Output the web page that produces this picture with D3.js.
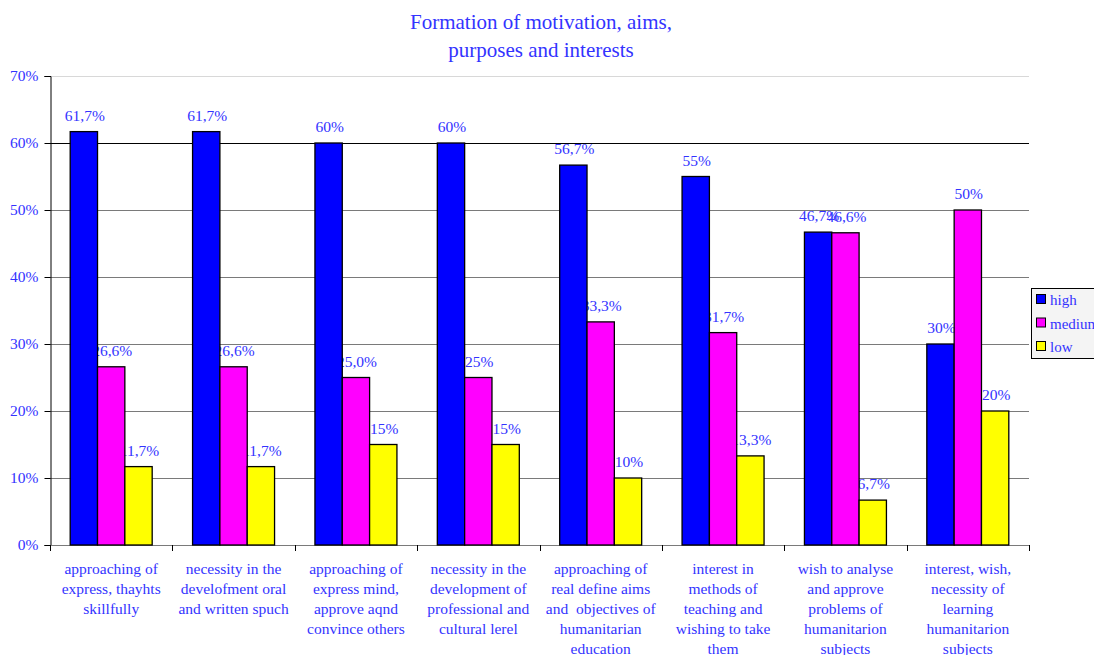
<!DOCTYPE html>
<html lang="en">
<head>
    <meta charset="UTF-8">
    <title>Formation of motivation, aims, purposes and interests</title>
    <script src="https://d3js.org/d3.v7.min.js"></script>
    <style>
        html, body {
            margin: 0;
            background: #fff;
        }
        svg text {
            font-family: "Liberation Serif", "Times New Roman", serif;
            fill: #3333ff;
            white-space: pre;
        }
    </style>
</head>
<body>
<div id="vis"></div>
<script>
    // data
    var categories = [
        ["approaching of", "express, thayhts", "skillfully"],
        ["necessity in the", "develofment oral", "and written spuch"],
        ["approaching of", "express mind,", "approve aqnd", "convince others"],
        ["necessity in the", "development of", "professional and", "cultural lerel"],
        ["approaching of", "real define aims", "and  objectives of", "humanitarian", "education"],
        ["interest in", "methods of", "teaching and", "wishing to take", "them"],
        ["wish to analyse", "and approve", "problems of", "humanitarion", "subjects"],
        ["interest, wish,", "necessity of", "learning", "humanitarion", "subjects"]
    ];
    var seriesNames = ["high", "medium", "low"];
    var seriesColors = ["#0000ff", "#ff00ff", "#ffff00"];
    var high = [61.7, 61.7, 60, 60, 56.7, 55, 46.7, 30];
    var medium = [26.6, 26.6, 25, 25, 33.3, 31.7, 46.6, 50];
    var low = [11.7, 11.7, 15, 15, 10, 13.3, 6.7, 20];
    var highLabels = ["61,7%", "61,7%", "60%", "60%", "56,7%", "55%", "46,7%", "30%"];
    var mediumLabels = ["26,6%", "26,6%", "25,0%", "25%", "33,3%", "31,7%", "46,6%", "50%"];
    var lowLabels = ["11,7%", "11,7%", "15%", "15%", "10%", "13,3%", "6,7%", "20%"];
    var yTicks = [0, 10, 20, 30, 40, 50, 60, 70];

    var series = [high, medium, low];
    var seriesLabels = [highLabels, mediumLabels, lowLabels];

    var width = 1094, height = 655;
    var margin = {top: 76, left: 50, right: 65, bottom: 110};

    var svg = d3.select('#vis')
        .append('svg')
            .attr('width', width)
            .attr('height', height);

    var x = d3.scaleBand()
        .domain(d3.range(categories.length))
        .range([margin.left, width - margin.right])
        .paddingInner(0.33)
        .paddingOuter(0.165);

    var xSub = d3.scaleBand()
        .domain(d3.range(series.length))
        .range([0, x.bandwidth()]);

    var y = d3.scaleLinear()
        .domain([0, 70])
        .range([height - margin.bottom, margin.top]);

    var step = x.step();
    var plotLeft = margin.left, plotRight = width - margin.right;

    // title
    svg.append('text')
        .attr('x', 541).attr('y', 29)
        .attr('text-anchor', 'middle')
        .style('font-size', '21px')
        .text('Formation of motivation, aims,');
    svg.append('text')
        .attr('x', 541).attr('y', 57)
        .attr('text-anchor', 'middle')
        .style('font-size', '21px')
        .text('purposes and interests');

    // gridlines
    svg.append('g')
        .selectAll('line')
        .data(yTicks.slice(1))
        .enter().append('line')
            .attr('x1', plotLeft).attr('x2', plotRight)
            .attr('y1', function(d) { return Math.round(y(d)) + 0.5; })
            .attr('y2', function(d) { return Math.round(y(d)) + 0.5; })
            .attr('stroke', function(d) { return d === 70 ? '#d8d8d8' : (d === 60 ? '#000' : '#7a7a7a'); })
            .attr('stroke-width', 1.2);

    // y axis
    var yAxis = d3.axisLeft(y)
        .tickValues(yTicks)
        .tickSize(6)
        .tickFormat(function(d) { return d + '%'; });
    var gy = svg.append('g')
        .attr('transform', 'translate(' + (plotLeft + 0.5) + ',0)')
        .call(yAxis);
    gy.select('.domain').attr('stroke', '#000');
    gy.selectAll('.tick line').attr('stroke', '#000');
    gy.selectAll('.tick text')
        .attr('x', -12)
        .style('font-size', '15.5px')
        .style('font-family', '"Liberation Serif", serif')
        .attr('fill', '#3333ff');

    // x axis baseline and tick marks at category boundaries
    svg.append('line')
        .attr('x1', plotLeft).attr('x2', plotRight)
        .attr('y1', y(0) + 0.5).attr('y2', y(0) + 0.5)
        .attr('stroke', '#7a7a7a').attr('stroke-width', 1.2);
    svg.append('g')
        .selectAll('line')
        .data(d3.range(categories.length + 1))
        .enter().append('line')
            .attr('x1', function(i) { return Math.round(plotLeft + i * step) + 0.5; })
            .attr('x2', function(i) { return Math.round(plotLeft + i * step) + 0.5; })
            .attr('y1', y(0))
            .attr('y2', y(0) + 6)
            .attr('stroke', '#000');

    // category labels
    var catG = svg.append('g')
        .selectAll('text')
        .data(categories)
        .enter().append('text')
            .attr('text-anchor', 'middle')
            .style('font-size', '15.5px');
    catG.selectAll('tspan')
        .data(function(d, i) { return d.map(function(t) { return {t: t, i: i}; }); })
        .enter().append('tspan')
            .attr('x', function(d) { return x(d.i) + x.bandwidth() / 2; })
            .attr('y', function(d, j) { return 574 + j * 20; })
            .text(function(d) { return d.t; });

    // flatten for drawing
    var cells = [];
    categories.forEach(function(c, i) {
        series.forEach(function(s, k) {
            cells.push({i: i, k: k, v: s[i], label: seriesLabels[k][i]});
        });
    });

    // value labels first, bars drawn on top of them
    svg.append('g')
        .selectAll('text')
        .data(cells)
        .enter().append('text')
            .attr('x', function(d) { return x(d.i) + xSub(d.k) + xSub.bandwidth() / 2 + 1; })
            .attr('y', function(d) { return y(d.v) - 11; })
            .attr('text-anchor', 'middle')
            .style('font-size', '15.5px')
            .text(function(d) { return d.label; });

    svg.append('g')
        .selectAll('rect')
        .data(cells)
        .enter().append('rect')
            .attr('x', function(d) { return x(d.i) + xSub(d.k); })
            .attr('y', function(d) { return y(d.v); })
            .attr('width', xSub.bandwidth())
            .attr('height', function(d) { return y(0) - y(d.v); })
            .attr('fill', function(d) { return seriesColors[d.k]; })
            .attr('stroke', '#000')
            .attr('stroke-width', 1.3);

    // legend
    var legend = svg.append('g')
        .attr('transform', 'translate(1031,288)');
    legend.append('rect')
        .attr('x', 0.5).attr('y', 0.5)
        .attr('width', 80).attr('height', 70)
        .attr('fill', '#f4f4f4')
        .attr('stroke', '#000');
    var li = legend.selectAll('.item')
        .data(seriesNames)
        .enter().append('g')
            .attr('class', 'item')
            .attr('transform', function(d, i) { return 'translate(0,' + (12 + i * 23.5) + ')'; });
    li.append('rect')
        .attr('x', 5.5).attr('y', -5.5)
        .attr('width', 9).attr('height', 9)
        .attr('fill', function(d, i) { return seriesColors[i]; })
        .attr('stroke', '#000');
    li.append('text')
        .attr('x', 19)
        .attr('y', 5)
        .style('font-size', '15px')
        .text(function(d) { return d; });
</script>
</body>
</html>
